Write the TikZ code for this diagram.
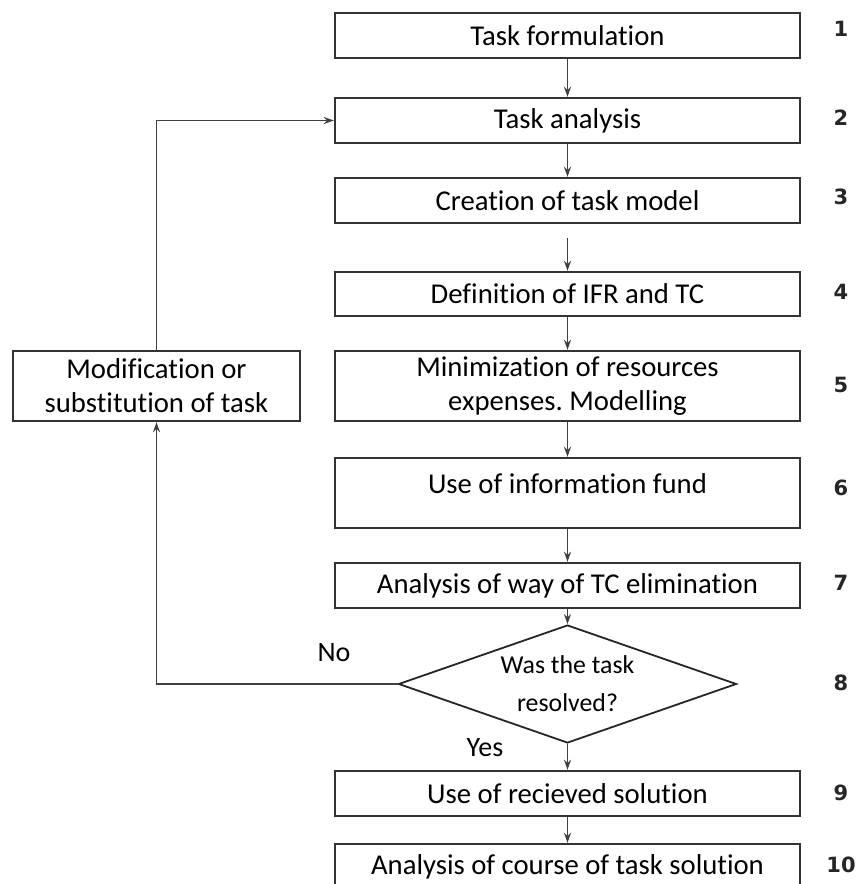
\documentclass[tikz,border=0pt]{standalone}
\usepackage{fontspec}
\setmainfont{Carlito}[Ligatures={NoCommon,NoRequired,NoContextual},Contextuals=NoAlternate,RawFeature={-liga;-clig;-calt;-dlig}]
\newfontfamily\numfont{DejaVu Sans}
\usetikzlibrary{shapes.geometric}
\usetikzlibrary{arrows.meta}
\frenchspacing

\begin{document}
\begin{tikzpicture}[x=1pt,y=-1pt,
  box/.style={draw=black!80,line width=2.4pt,minimum width=465pt,minimum height=45pt,inner sep=0pt,align=center,font=\fontsize{28.7}{34}\selectfont},
  tallbox/.style={box,minimum height=70pt},
  check/.style={draw=black!85,line width=1.8pt,diamond,aspect=2.86,minimum width=338pt,minimum height=118pt,inner sep=0pt,align=center,font=\fontsize{25.8}{38}\selectfont},
  arr/.style={-{Stealth[length=10pt,width=7pt]},draw=black!75,line width=1.9pt},
  num/.style={font=\numfont\bfseries\fontsize{21}{24}\selectfont,text=black!85},
  lbl/.style={font=\fontsize{28}{34}\selectfont}]
 \useasboundingbox (0,0) rectangle (858,884);
 \clip (0,0) rectangle (858,884);
 \node[box] (form) at (567.5,35.5) {Task formulation};
 \node[box] (anal) at (567.5,120.5) {Task analysis};
 \node[box] (model) at (567.5,200.5) {Creation of task model};
 \node[box,minimum height=44pt] (ifr) at (567.5,294) {Definition of IFR and TC};
 \node[tallbox] (minim) at (567.5,386) {Minimization of resources\\expenses. Modelling};
 \node[tallbox,text depth=19pt] (fund) at (567.5,493) {Use of information fund};
 \node[box] (elim) at (567.5,585.5) {Analysis of way of TC elimination};
 \node[check] (res) at (567.5,684) {Was the task\\resolved?};
 \node[box] (use) at (567.5,793.5) {Use of recieved solution};
 \node[box] (course) at (567.5,866.5) {Analysis of course of task solution};
 \node[tallbox,minimum width=287pt] (modif) at (156.5,386) {Modification or\\substitution of task};
 \node[lbl] (no) at (334,653) {No};
 \node[lbl] (yes) at (485,748) {Yes};
 \foreach \n/\y in {1/29,2/118,3/197,4/292,5/385,6/488,7/583,8/683,9/793,10/865}
  \node[num] (num\n) at (841,\y) {\n};
 \draw[arr] (form) -- (anal);
 \draw[arr] (anal) -- (model);
 \draw[arr,shorten <=14pt] (model) -- (ifr);
 \draw[arr] (ifr) -- (minim);
 \draw[arr] (minim) -- (fund);
 \draw[arr] (fund) -- (elim);
 \draw[arr] (elim) -- (res);
 \draw[arr] (res) -- (use);
 \draw[arr] (use) -- (course);
 \draw[arr] (res.west) -| (modif.south);
 \draw[arr] (modif.north) |- (anal.west);
\end{tikzpicture}
\end{document}
